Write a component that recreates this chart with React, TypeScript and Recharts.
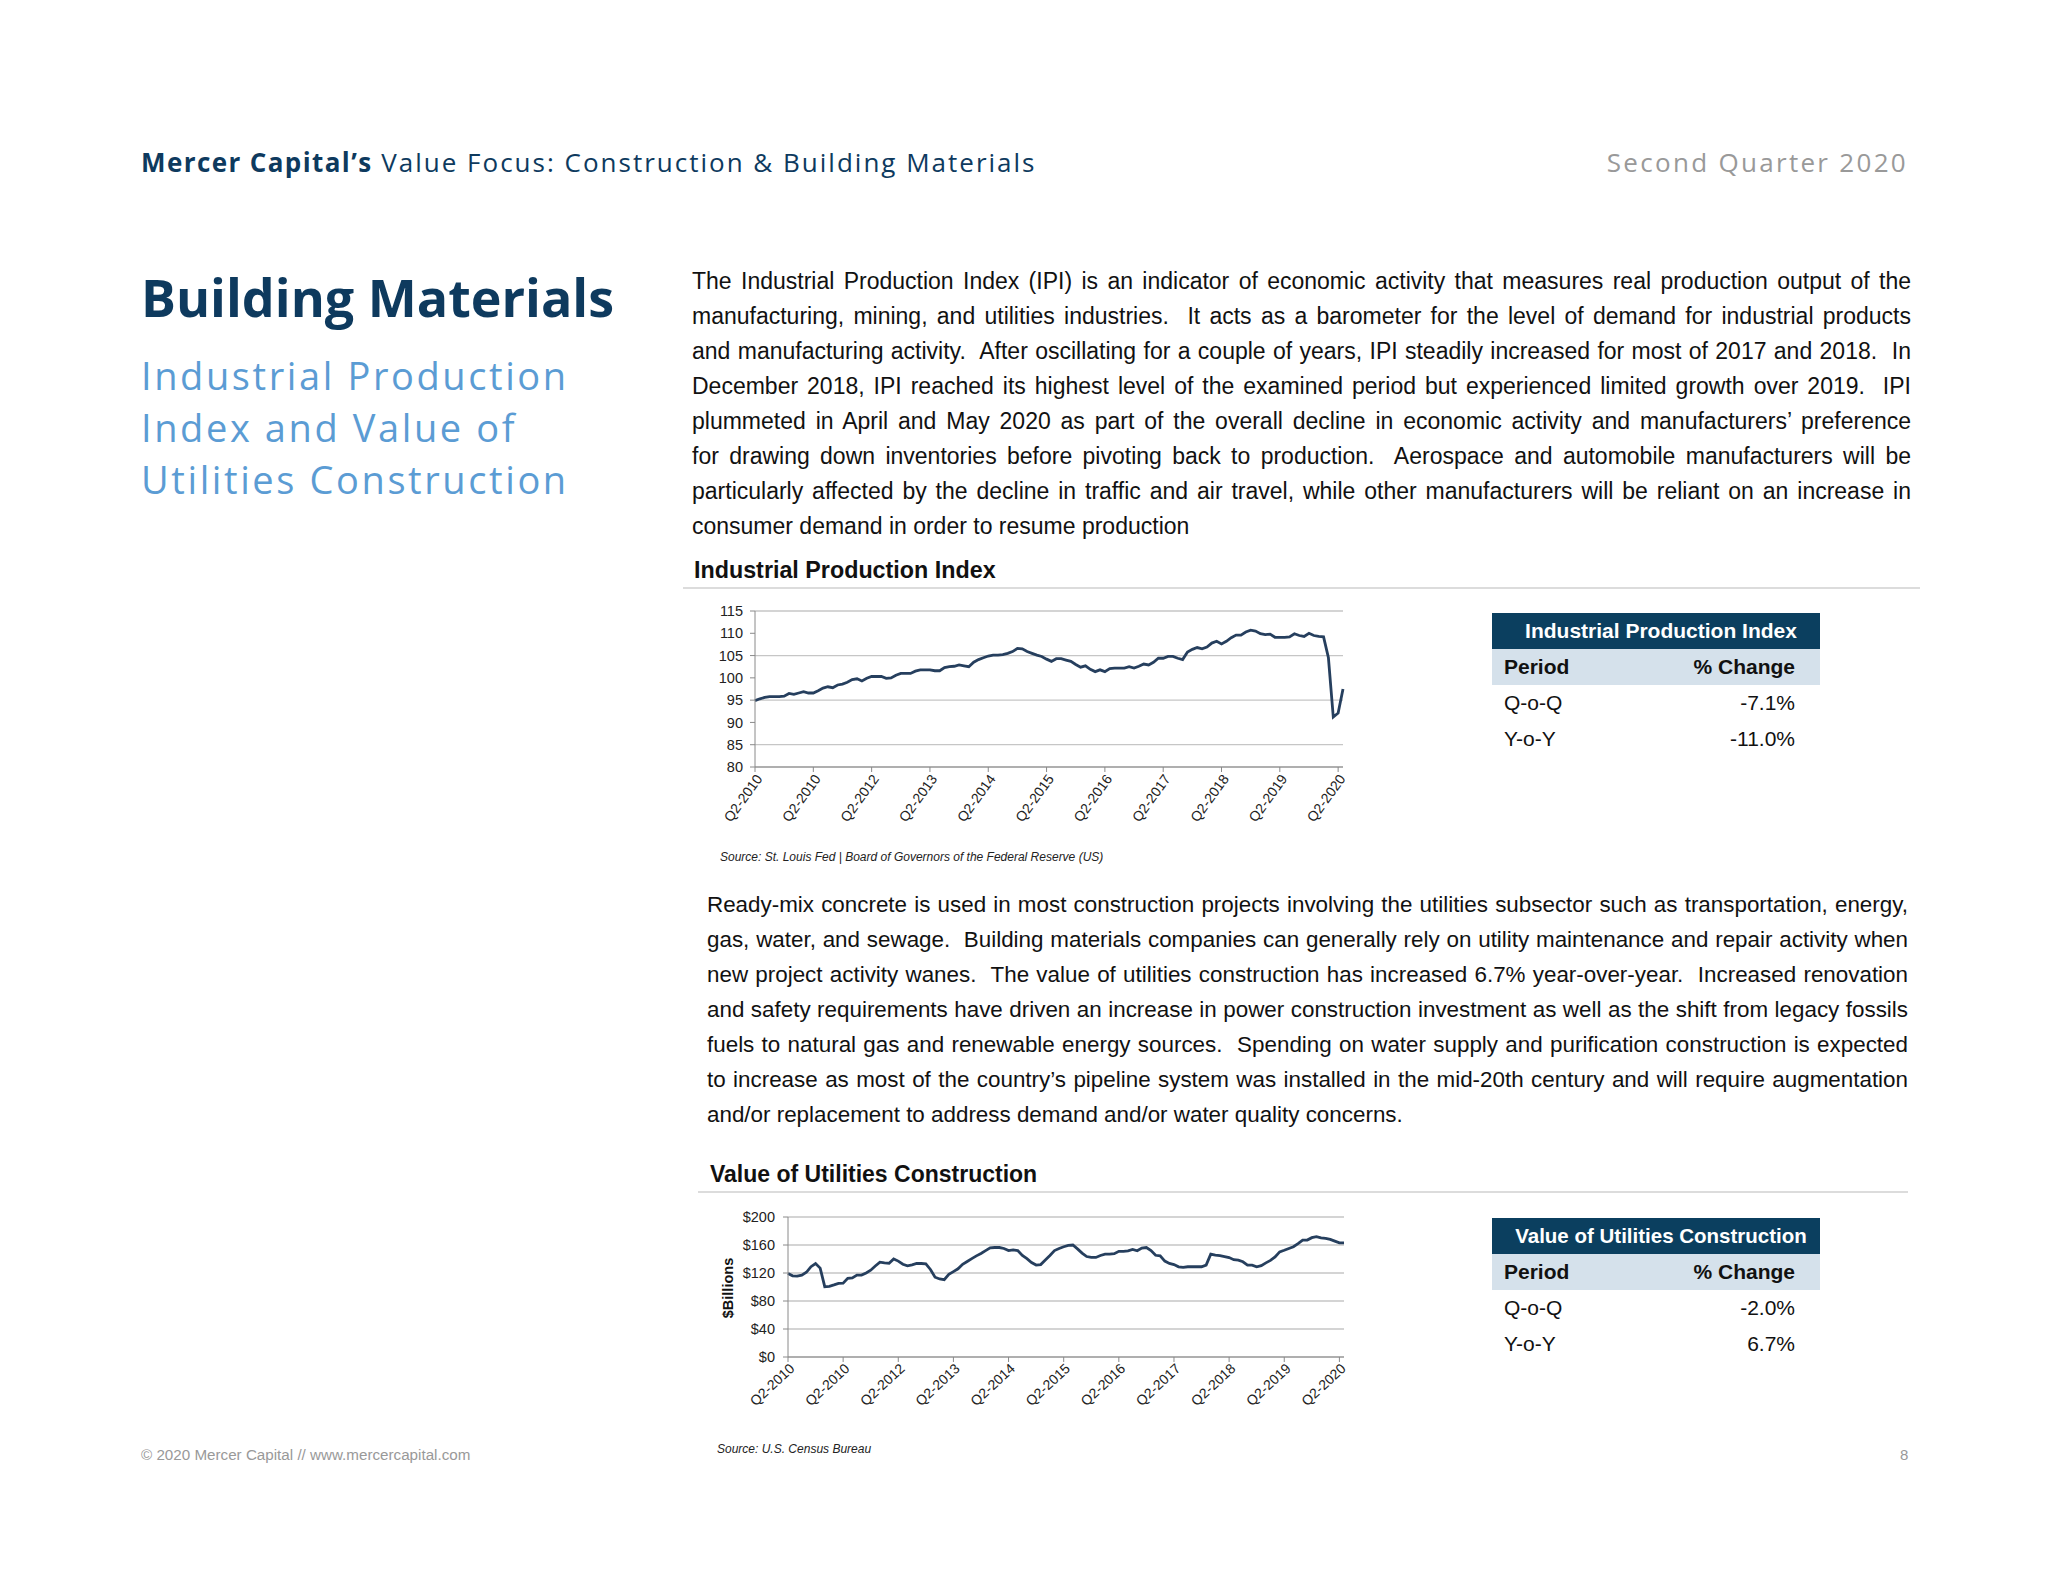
import React from 'react';
import { LineChart, Line, XAxis, YAxis, CartesianGrid } from 'recharts';

// monthly, Q2-2010 .. Q2-2020
const ipiValues = [
  94.9, 95.3, 95.6, 95.8, 95.8, 95.8, 95.9, 96.5, 96.3, 96.6, 96.9, 96.6,
  96.6, 97.1, 97.7, 98.0, 97.8, 98.4, 98.6, 99.0, 99.6, 99.8, 99.3, 99.9,
  100.3, 100.3, 100.3, 99.9, 100.0, 100.6, 101.0, 101.0, 101.0, 101.5, 101.8, 101.8,
  101.8, 101.6, 101.6, 102.3, 102.5, 102.6, 102.9, 102.7, 102.5, 103.5, 104.1, 104.5,
  104.9, 105.1, 105.1, 105.2, 105.5, 105.9, 106.6, 106.5, 105.9, 105.5, 105.1, 104.8,
  104.2, 103.7, 104.3, 104.3, 104.0, 103.7, 103.0, 102.4, 102.7, 101.9, 101.4, 101.8,
  101.4, 102.1, 102.2, 102.2, 102.2, 102.5, 102.2, 102.6, 103.1, 102.9, 103.5, 104.4,
  104.4, 104.8, 104.8, 104.4, 104.1, 105.8, 106.4, 106.8, 106.5, 106.9, 107.8, 108.2,
  107.6, 108.2, 109.0, 109.6, 109.6, 110.3, 110.7, 110.5, 109.9, 109.7, 109.8, 109.1,
  109.1, 109.1, 109.2, 109.9, 109.5, 109.3, 110.0, 109.5, 109.3, 109.2, 104.5, 91.2,
  92.1, 97.5,
];

const utilValues = [
  119.4, 116, 115.5, 117, 121, 129, 133.5, 127, 100.5, 101, 103, 105.2,
  105.5, 112.3, 113, 117, 117, 120, 124, 130, 135.5, 134.5, 134, 140,
  137, 132.5, 130.3, 131.5, 133.6, 133.6, 133.2, 125, 114, 111.5, 110.5, 118,
  122, 126, 132.5, 136.5, 140.5, 144.5, 147.9, 152, 156, 156.4, 156.4, 155,
  152, 153, 152, 145, 140.5, 135, 131.3, 132, 138.5, 145, 152, 155,
  157.5, 159.5, 160, 154.5, 148.5, 143.5, 142.2, 142.2, 145, 146.9, 146.9, 147.5,
  151, 150.8, 151.5, 153.6, 151.7, 155.5, 156.4, 152, 145.3, 144.5, 137, 133.6,
  132, 128.8, 128, 128.9, 128.9, 128.9, 128.9, 131.3, 147, 145.5, 144.7, 143.5,
  142, 139, 138.4, 136, 131.3, 131.3, 128.9, 130.5, 134.5, 138, 143, 150.2,
  152.5, 155, 157.5, 162, 167, 167, 170.5, 172, 170.1, 169.5, 168, 165.5,
  163, 163,
];

const tickLabels = [
  'Q2-2010', 'Q2-2010', 'Q2-2012', 'Q2-2013', 'Q2-2014', 'Q2-2015',
  'Q2-2016', 'Q2-2017', 'Q2-2018', 'Q2-2019', 'Q2-2020',
];
const xTicks = tickLabels.map((_, k) => k * 12);

const ipiTicks = [80, 85, 90, 95, 100, 105, 110, 115];
const utilTicks = [0, 40, 80, 120, 160, 200];

const para1 = [
  'The Industrial Production Index (IPI) is an indicator of economic activity that measures real production output of the',
  'manufacturing, mining, and utilities industries.\u00a0 It acts as a barometer for the level of demand for industrial products',
  'and manufacturing activity.\u00a0 After oscillating for a couple of years, IPI steadily increased for most of 2017 and 2018.\u00a0 In',
  'December 2018, IPI reached its highest level of the examined period but experienced limited growth over 2019.\u00a0 IPI',
  'plummeted in April and May 2020 as part of the overall decline in economic activity and manufacturers\u2019 preference',
  'for drawing down inventories before pivoting back to production.\u00a0 Aerospace and automobile manufacturers will be',
  'particularly affected by the decline in traffic and air travel, while other manufacturers will be reliant on an increase in',
  'consumer demand in order to resume production',
];

const para2 = [
  'Ready-mix concrete is used in most construction projects involving the utilities subsector such as transportation, energy,',
  'gas, water, and sewage.\u00a0 Building materials companies can generally rely on utility maintenance and repair activity when',
  'new project activity wanes.\u00a0 The value of utilities construction has increased 6.7% year-over-year.\u00a0 Increased renovation',
  'and safety requirements have driven an increase in power construction investment as well as the shift from legacy fossils',
  'fuels to natural gas and renewable energy sources.\u00a0 Spending on water supply and purification construction is expected',
  'to increase as most of the country\u2019s pipeline system was installed in the mid-20th century and will require augmentation',
  'and/or replacement to address demand and/or water quality concerns.',
];

const ipiTable = [['Q-o-Q', '-7.1%'], ['Y-o-Y', '-11.0%']];
const utilTable = [['Q-o-Q', '-2.0%'], ['Y-o-Y', '6.7%']];

const NAVY = '#0e3a5e';
const LINE = '#263f5e';
const SANS = '"Liberation Sans", Arial, sans-serif';
const GOTHAM = '"Open Sans", sans-serif';

const ipiData = ipiValues.map((v, i) => ({ i, v }));
const utilData = utilValues.map((v, i) => ({ i, v }));

function makeTick(angle: number) {
  return (props: any) => {
    const { x, y, payload } = props;
    return (
      <text
        transform={`translate(${x + 4},${y + 2}) rotate(${angle})`}
        textAnchor="end"
        dy="0.35em"
        fontSize={14}
        fontFamily={SANS}
        fill="#222"
      >
        {tickLabels[Math.round(payload.value / 12)]}
      </text>
    );
  };
}

function Paragraph({ lines, left, top, width, size }: any) {
  return (
    <div style={{ position: 'absolute', left, top, width, fontFamily: SANS, fontSize: size, lineHeight: '35px', color: '#111' }}>
      {lines.map((l: string, k: number) => (
        <div
          key={k}
          style={{
            textAlign: 'justify',
            textAlignLast: k === lines.length - 1 ? 'left' : 'justify',
            whiteSpace: 'nowrap',
          }}
        >
          {l}
        </div>
      ))}
    </div>
  );
}

function StatTable({ title, rows, top, titleSize }: any) {
  const cell = { height: 36, display: 'flex', alignItems: 'center', justifyContent: 'space-between', padding: '0 25px 0 12px' };
  return (
    <div style={{ position: 'absolute', left: 1492, top, width: 328, fontFamily: SANS, color: '#111' }}>
      <div style={{ height: 36, background: '#0b3f5f', color: '#fff', fontWeight: 700, fontSize: titleSize, display: 'flex', alignItems: 'center', justifyContent: 'center', paddingLeft: 10 }}>
        {title}
      </div>
      <div style={{ ...cell, background: '#d5e1eb', fontWeight: 700, fontSize: 21 }}>
        <span>Period</span>
        <span>% Change</span>
      </div>
      {rows.map((r: string[], k: number) => (
        <div key={k} style={{ ...cell, fontSize: 21 }}>
          <span>{r[0]}</span>
          <span>{r[1]}</span>
        </div>
      ))}
    </div>
  );
}

const abs = (left: number, top: number, extra: any = {}) => ({ position: 'absolute' as const, left, top, whiteSpace: 'nowrap' as const, ...extra });

export default function App() {
  return (
    <div style={{ position: 'absolute', left: 0, top: 0, width: 2048, height: 1582, background: '#fff', overflow: 'hidden' }}>
      {/* page header */}
      <div style={abs(141, 147, { fontFamily: GOTHAM, fontSize: 26, lineHeight: '30px', color: NAVY, letterSpacing: 2 })}>
        <b style={{ letterSpacing: 1.4 }}>Mercer Capital’s</b> Value Focus: Construction &amp; Building Materials
      </div>
      <div style={{ ...abs(0, 147), left: 'auto', right: 140, fontFamily: GOTHAM, fontSize: 26, lineHeight: '30px', color: '#999', letterSpacing: 2.3 }}>
        Second Quarter 2020
      </div>

      <div style={abs(141, 266, { fontFamily: GOTHAM, fontSize: 52, lineHeight: '62px', fontWeight: 700, color: NAVY })}>
        Building Materials
      </div>
      <div style={abs(141, 349, { fontFamily: GOTHAM, fontSize: 38, lineHeight: '52px', color: '#5b9cd4', letterSpacing: 2.6 })}>
        Industrial Production<br />Index and Value of<br />Utilities Construction
      </div>

      <Paragraph lines={para1} left={692} top={264} width={1219} size={23} />

      {/* IPI chart */}
      <div style={abs(694, 556, { fontFamily: SANS, fontSize: 23.3, lineHeight: '28px', fontWeight: 700, color: '#111' })}>
        Industrial Production Index
      </div>
      <div style={abs(683, 587, { width: 1237, height: 2, background: '#dcdcdc' })} />
      <div style={abs(692, 595)}>
        <LineChart width={660} height={265} data={ipiData} margin={{ top: 16, right: 9, left: 8, bottom: 23 }}>
          <CartesianGrid vertical={false} stroke="#c6c6c6" strokeWidth={1.3} />
          <XAxis
            type="number"
            dataKey="i"
            domain={[0, 121]}
            ticks={xTicks}
            interval={0}
            height={70}
            stroke="#8a8a8a"
            tickSize={5}
            tick={makeTick(-54)}
          />
          <YAxis
            domain={[80, 115]}
            ticks={ipiTicks}
            width={55}
            stroke="#8a8a8a"
            tickSize={5}
            tickMargin={7}
            tick={{ fontSize: 14.5, fontFamily: SANS, fill: '#222' }}
          />
          <Line type="linear" dataKey="v" stroke={LINE} strokeWidth={2.8} dot={false} isAnimationActive={false} />
        </LineChart>
      </div>
      <div style={abs(720, 849, { fontFamily: SANS, fontSize: 12, lineHeight: '16px', fontStyle: 'italic', color: '#222' })}>
        Source: St. Louis Fed | Board of Governors of the Federal Reserve (US)
      </div>
      <StatTable title="Industrial Production Index" rows={ipiTable} top={613} titleSize={21} />

      <Paragraph lines={para2} left={707} top={887} width={1201} size={22.4} />

      {/* utilities chart */}
      <div style={abs(710, 1160, { fontFamily: SANS, fontSize: 23, lineHeight: '28px', fontWeight: 700, color: '#111' })}>
        Value of Utilities Construction
      </div>
      <div style={abs(698, 1191, { width: 1210, height: 2, background: '#dcdcdc' })} />
      <div style={abs(692, 1200)}>
        <LineChart width={662} height={260} data={utilData} margin={{ top: 17, right: 10, left: 26, bottom: 23 }}>
          <CartesianGrid vertical={false} stroke="#c6c6c6" strokeWidth={1.3} />
          <XAxis
            type="number"
            dataKey="i"
            domain={[0, 121]}
            ticks={xTicks}
            interval={0}
            height={80}
            stroke="#8a8a8a"
            tickSize={5}
            tick={makeTick(-43)}
          />
          <YAxis
            domain={[0, 200]}
            ticks={utilTicks}
            width={70}
            stroke="#8a8a8a"
            tickSize={5}
            tickMargin={8}
            tickFormatter={(v: number) => `$${v}`}
            tick={{ fontSize: 14.5, fontFamily: SANS, fill: '#222' }}
          />
          <Line type="linear" dataKey="v" stroke={LINE} strokeWidth={2.8} dot={false} isAnimationActive={false} />
        </LineChart>
      </div>
      <div style={abs(728, 1288, { fontFamily: SANS, fontSize: 14.5, fontWeight: 700, color: '#111', transform: 'translate(-50%, -50%) rotate(-90deg)' })}>
        $Billions
      </div>
      <div style={abs(717, 1441, { fontFamily: SANS, fontSize: 12, lineHeight: '16px', fontStyle: 'italic', color: '#222' })}>
        Source: U.S. Census Bureau
      </div>
      <StatTable title="Value of Utilities Construction" rows={utilTable} top={1218} titleSize={20.5} />

      {/* footer */}
      <div style={abs(141, 1445, { fontFamily: SANS, fontSize: 15.2, lineHeight: '20px', color: '#999' })}>
        © 2020 Mercer Capital // www.mercercapital.com
      </div>
      <div style={abs(1900, 1445, { fontFamily: SANS, fontSize: 15, lineHeight: '20px', color: '#999' })}>
        8
      </div>
    </div>
  );
}
